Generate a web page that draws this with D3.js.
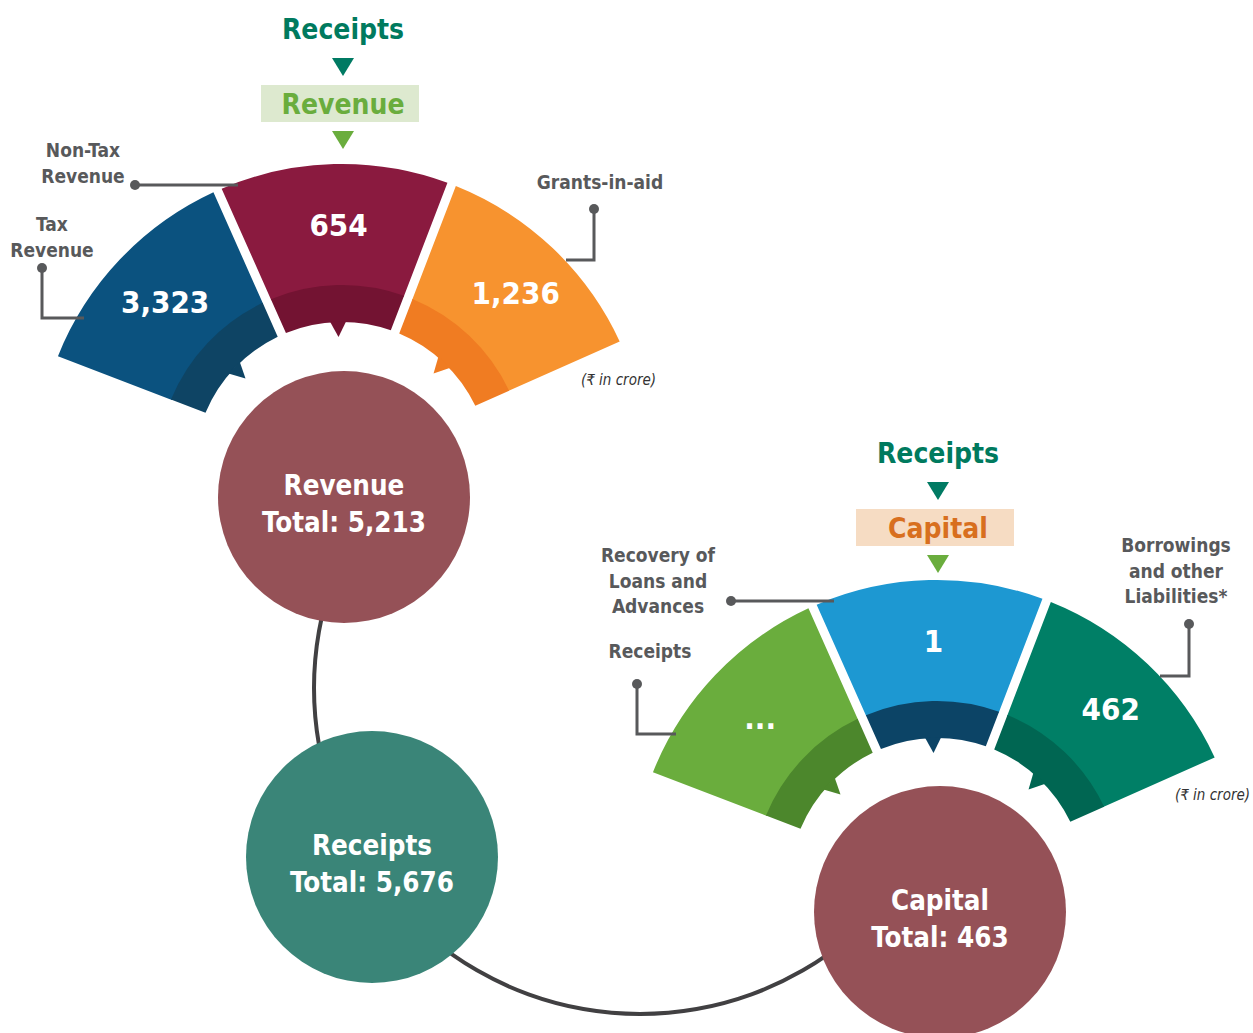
<!DOCTYPE html>
<html>
<head>
<meta charset="utf-8">
<script src="https://cdn.jsdelivr.net/npm/d3@7"></script>
<style>
body { margin: 0; background: #fff; }
text { font-family: "DejaVu Sans Condensed", "DejaVu Sans", "Noto Sans", sans-serif; font-weight: bold; }
text.note { font-weight: normal; font-style: italic; }
</style>
</head>
<body>
<script>
// data
var revenueCategories = ['Tax Revenue', 'Non-Tax Revenue', 'Grants-in-aid'];
var revenueValues = [3323, 654, 1236];
var revenueLabels = [['Tax', 'Revenue'], ['Non-Tax', 'Revenue'], ['Grants-in-aid']];

var capitalCategories = ['Receipts', 'Recovery of Loans and Advances', 'Borrowings and other Liabilities*'];
var capitalValues = [null, 1, 462];
var capitalLabels = [['Receipts'], ['Recovery of', 'Loans and', 'Advances'], ['Borrowings', 'and other', 'Liabilities*']];

var totalNames = ['Revenue', 'Receipts', 'Capital'];
var totalValues = [5213, 5676, 463];

var fmt = d3.format(',');
var deg = Math.PI / 180;

var svg = d3.select('body').append('svg')
    .attr('width', 1253)
    .attr('height', 1033);

// connecting curve behind the circles
var link = d3.arc()
    .innerRadius(324).outerRadius(328)
    .startAngle(130 * deg).endAngle(290 * deg);
svg.append('path')
    .attr('transform', 'translate(640,688)')
    .attr('d', link())
    .attr('fill', '#414042');

// total circles
var circlesData = [
    { cx: 344, cy: 497, color: '#955157' },
    { cx: 372, cy: 857, color: '#3a8578' },
    { cx: 940, cy: 912, color: '#955157' }
];
var circles = svg.selectAll('g.total').data(circlesData).enter().append('g')
    .attr('class', 'total')
    .attr('transform', function(d) { return 'translate(' + d.cx + ',' + d.cy + ')'; });
circles.append('circle')
    .attr('r', 126)
    .attr('fill', function(d) { return d.color; });
circles.append('text')
    .attr('text-anchor', 'middle')
    .attr('y', -2)
    .attr('fill', '#fff')
    .attr('font-size', 27.5)
    .text(function(d, i) { return totalNames[i]; });
circles.append('text')
    .attr('text-anchor', 'middle')
    .attr('y', 35)
    .attr('fill', '#fff')
    .attr('font-size', 27.5)
    .text(function(d, i) { return 'Total: ' + fmt(totalValues[i]); });

function polar(r, a) {
    return [r * Math.sin(a), -r * Math.cos(a)];
}

function drawFan(cx, cy, cats, values, colors, darks) {
    var g = svg.append('g').attr('transform', 'translate(' + cx + ',' + cy + ')');
    var angle = d3.scaleBand().domain(cats).range([-69 * deg, 66 * deg]);
    var outer = d3.arc().innerRadius(184).outerRadius(306).padAngle(0.03).padRadius(300);
    var inner = d3.arc().innerRadius(148).outerRadius(185).padAngle(0.03).padRadius(300);

    cats.forEach(function(c, i) {
        var a0 = angle(c), a1 = a0 + angle.bandwidth(), am = (a0 + a1) / 2;
        g.append('path')
            .attr('d', outer({ startAngle: a0, endAngle: a1 }))
            .attr('fill', colors[i]);
        g.append('path')
            .attr('d', inner({ startAngle: a0, endAngle: a1 }))
            .attr('fill', darks[i]);
        // small notch pointing to the centre
        var p1 = polar(149, am - 0.055), p2 = polar(149, am + 0.055), p3 = polar(133, am);
        g.append('path')
            .attr('d', 'M' + p1 + 'L' + p2 + 'L' + p3 + 'Z')
            .attr('fill', darks[i]);
        var t = polar(248, am);
        g.append('text')
            .attr('x', t[0] + 3).attr('y', t[1] + 14)
            .attr('text-anchor', 'middle')
            .attr('fill', '#fff')
            .attr('font-size', 31)
            .text(values[i] == null ? '...' : fmt(values[i]));
    });
}

drawFan(342, 470, revenueCategories, revenueValues,
    ['#0b527f', '#8a1a3f', '#f7932f'], ['#0e4464', '#731332', '#f07c22']);
drawFan(937, 886, capitalCategories, capitalValues,
    ['#6aad3d', '#1d98d2', '#007f66'], ['#4c872c', '#0c4466', '#006652']);

// headers
function header(x, y, word, wordColor, boxColor) {
    svg.append('text').attr('x', x).attr('y', y + 11)
        .attr('text-anchor', 'middle').attr('font-size', 28)
        .attr('fill', '#007a5e').text('Receipts');
    svg.append('path')
        .attr('d', 'M' + (x - 11) + ',' + (y + 30) + 'h22l-11,18z')
        .attr('fill', '#007a63');
    svg.append('rect')
        .attr('x', x - 82).attr('y', y + 57).attr('width', 158).attr('height', 37)
        .attr('fill', boxColor);
    svg.append('text').attr('x', x).attr('y', y + 86)
        .attr('text-anchor', 'middle').attr('font-size', 28)
        .attr('fill', wordColor).text(word);
    svg.append('path')
        .attr('d', 'M' + (x - 11) + ',' + (y + 103) + 'h22l-11,18z')
        .attr('fill', '#6aad3d');
}
header(343, 28, 'Revenue', '#6aad3d', '#dde9cf');
header(938, 452, 'Capital', '#d86f1e', '#f6dcc3');

// labels with leader lines
function label(lines, x, y0, dot, path) {
    var t = svg.append('text').attr('text-anchor', 'middle')
        .attr('font-size', 19).attr('fill', '#58595b');
    lines.forEach(function(l, i) {
        t.append('tspan').attr('x', x).attr('y', y0 + i * 25.5).text(l);
    });
    svg.append('path').attr('d', path)
        .attr('fill', 'none').attr('stroke', '#58595b').attr('stroke-width', 3);
    svg.append('circle').attr('cx', dot[0]).attr('cy', dot[1]).attr('r', 5)
        .attr('fill', '#58595b');
}

label(revenueLabels[0], 52, 231, [42, 268], 'M42,268V318H84');
label(revenueLabels[1], 83, 157, [135, 185], 'M135,185H238');
label(revenueLabels[2], 600, 189, [594, 209], 'M594,209V260H566');
label(capitalLabels[0], 650, 658, [637, 684], 'M637,684V734H676');
label(capitalLabels[1], 658, 562, [731, 601], 'M731,601H834');
label(capitalLabels[2], 1176, 552, [1189, 624], 'M1189,624V676H1160');

// unit notes
[[656, 385], [1250, 800]].forEach(function(p) {
    svg.append('text').attr('class', 'note')
        .attr('x', p[0]).attr('y', p[1])
        .attr('text-anchor', 'end').attr('font-size', 15)
        .attr('fill', '#333').text('(\u20b9 in crore)');
});
</script>
</body>
</html>
